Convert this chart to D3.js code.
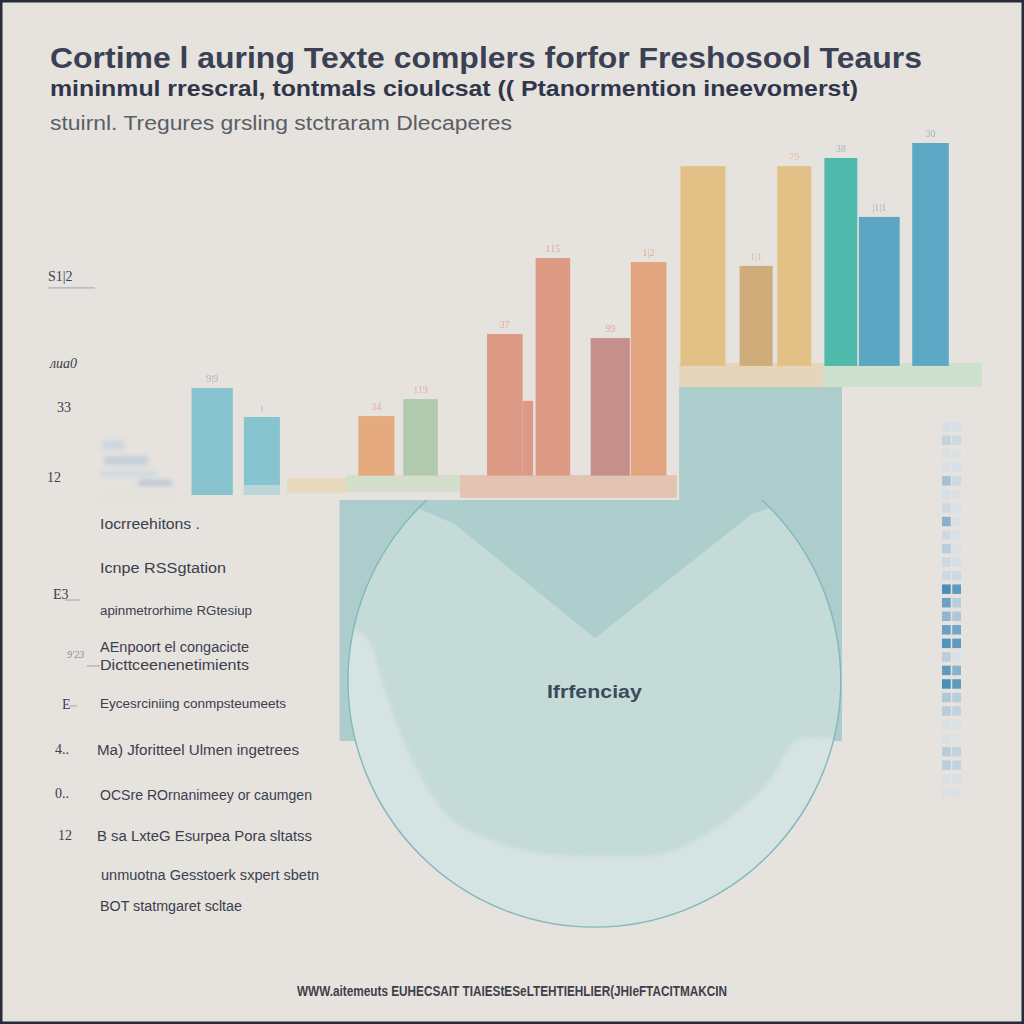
<!DOCTYPE html>
<html><head><meta charset="utf-8">
<script src="https://cdn.jsdelivr.net/npm/d3@7"></script>
<style>html,body{margin:0;padding:0;background:#e6e2de;overflow:hidden}</style>
</head><body>
<svg id="c" width="1024" height="1024" xmlns="http://www.w3.org/2000/svg"></svg>
<script>
// ---------------- DATA ----------------
const titleText = "Cortime l auring Texte complers forfor Freshosool Teaurs";
const subtitleText = "mininmul rrescral, tontmals cioulcsat (( Ptanormention ineevomerst)";
const noteText = "stuirnl. Tregures grsling stctraram  Dlecaperes";
const footerText = "WWW.aitemeuts EUHECSAIT TIAIEStESeLTEHTIEHLIER(JHIeFTACITMAKCIN";

const categories = ["a1","a2","b1","b2","c1","c1s","c2","c3","c4","d1","d2","d3","e1","e2","e3"];
const binStart = [1.44, 7.98, 22.29, 27.91, 38.38, 42.83, 44.45, 51.33, 56.35, 62.56, 69.95, 74.66, 80.55, 84.86, 91.53];
const binEnd   = [6.6, 12.49, 26.8, 32.23, 42.83, 44.13, 48.78, 56.23, 60.8, 68.19, 74.08, 78.91, 84.66, 89.96, 96.1];
const barBase  = [0, 0, 6.6, 6.6, 6.6, 6.6, 6.6, 6.6, 6.6, 44, 44, 44, 44, 44, 44];
const barValue = [36.5, 26.6, 26.9, 32.7, 54.9, 32.1, 80.8, 53.5, 79.4, 112.1, 78.1, 112.1, 114.9, 94.8, 120];
const barLabels = ["9|9", "ı", "34", "119", "37", "", "115", "99", "1|2", "", "1|1", "79", "38", "|1|1", "30"];

const platStart = [13.4, 20.75, 35.0, 62.4, 80.4];
const platEnd   = [20.75, 35.0, 62.1, 80.4, 100.25];
const platLow   = [0.7, 1.0, -1.0, 36.8, 36.8];
const platHigh  = [5.8, 6.8, 6.8, 45.0, 45.0];

const tealX = [19.94, 62.4, 62.4, 82.75, 82.75, 19.94];
const tealY = [-1.7, -1.7, 36.8, 36.8, -83.9, -83.9];

const pieValues = [100];
const pieLabels = ["Ifrfenciay"];
const pieCenter = [51.8, -63.3];
const pieRadius = 30.8;
const pieLabelValue = -67.5;

const tickValues = [74, 44.3, 29.3, 5.5, -34.4, -54.9, -71.9, -87.3, -102.3, -116.6];
const tickLabels = ["S1|2", "лиa0", "33", "12", "E3", "9'23", "E", "4..", "0..", "12"];

const listItems = ["Iocrreehitons .", "Icnpe RSSgtation", "apinmetrorhime RGtesiup", "AEnpoort el congacicte",
  "Dicttceenenetimients", "Eycesrciniing conmpsteumeets", "Ma) Jforitteel Ulmen ingetrees",
  "OCSre ROrnanimeey or caumgen", "B sa LxteG Esurpea Pora sltatss", "unmuotna Gesstoerk sxpert sbetn",
  "BOT statmgaret scltae"];

const heatLeft  = [0.15,0.25,0.1,0.1,0.4,0.15,0.2,0.55,0.2,0.3,0.2,0.2,0.85,0.7,0.5,0.7,0.8,0.3,0.75,0.85,0.35,0.3,0.1,0.1,0.3,0.3,0.1,0.1];
const heatRight = [0.15,0.2,0.1,0.15,0.2,0.1,0.1,0.1,0.1,0.1,0.15,0.2,0.75,0.3,0.35,0.65,0.75,0.1,0.55,0.75,0.3,0.25,0.1,0.05,0.25,0.25,0.15,0.1];

// ---------------- STYLE / LAYOUT ----------------
const barColors = ["#88c4d0","#88c4d0","#e5aa7e","#b1caae","#dc9985","#dc9985","#dd9b85","#c5908b","#e1a47f","#e3c186","#d1ac7b","#e3c186","#4fb9ac","#5aa6c3","#5da8c5"];
const labelColors = ["#9aa8b0","#9aa8b0","#e39482","#e3a08e","#e39482","#e39482","#e39482","#e39482","#e39482","#e0b890","#e0b080","#e0b890","#8ab0ac","#8aa8b8","#8aa8b8"];
const platColors = ["#e8d8bd","#d3dfca","#e3c4b2","#e5d5bb","#d0e0ce"];
const listY = [525, 569, 612, 648, 666, 705, 751, 796, 837, 876, 907];
const listX = [100, 100, 100, 100, 100, 100, 97, 100, 97, 101, 100];
const listW = [100, 126, 152, 149, 149, 186, 202, 212, 215, 218, 142];
const listFs = [14, 14, 12, 14, 14, 13, 14, 14, 14, 14, 14];

const FONT = "'Liberation Sans', Arial, sans-serif";
const svg = d3.select("#c");
const W = 1024, H = 1024;

const x = d3.scaleLinear().domain([0, 100]).range([180, 980]);
const y = d3.scaleLinear().domain([0, 120]).range([495, 143]);

svg.append("rect").attr("width", W).attr("height", H).attr("fill", "#e6e2de");

const defs = svg.append("defs");
defs.append("filter").attr("id", "blur").append("feGaussianBlur").attr("stdDeviation", 2);
defs.append("filter").attr("id", "blur1").append("feGaussianBlur").attr("stdDeviation", 0.7);

// teal background region
const tealPts = tealX.map((d, i) => [x(d), y(tealY[i])]);
svg.append("path").attr("d", d3.line()(tealPts) + "Z").attr("fill", "#adcdcc");

// pie / circle
const cx = x(pieCenter[0]), cy = y(pieCenter[1]);
const r = x(pieCenter[0] + pieRadius) - x(pieCenter[0]);
const clipTop = y(-1.7);
defs.append("clipPath").attr("id", "circClip").append("circle").attr("cx", cx).attr("cy", cy).attr("r", r);
defs.append("clipPath").attr("id", "topClip").append("rect").attr("x", 0).attr("y", clipTop).attr("width", W).attr("height", H);

const pieG = svg.append("g").attr("clip-path", "url(#topClip)");
const pieInner = pieG.append("g");
const arcs = d3.pie().sort(null)(pieValues);
pieInner.selectAll("path.slice").data(arcs).join("path").attr("class", "slice")
  .attr("transform", `translate(${cx},${cy})`)
  .attr("d", d3.arc().innerRadius(0).outerRadius(r))
  .attr("fill", "#c4dbd8");
const inner = pieInner.append("g").attr("clip-path", "url(#circClip)");
const rel = p => [cx + p[0] * r, cy + p[1] * r];
const vShape = [[-0.9,-1.1],[-0.789,-0.732],[-0.566,-0.635],[0.002,-0.172],[0.639,-0.676],[0.793,-0.732],[0.9,-1.1]].map(rel);
inner.append("path").attr("d", d3.line()(vShape) + "Z").attr("fill", "#aecece").attr("filter", "url(#blur1)");
const wave = [[-1.1,-0.205],[-1.012,-0.205],[-0.935,-0.189],[-0.85,0.039],[-0.797,0.189],[-0.708,0.383],[-0.594,0.55],[-0.424,0.647],[-0.249,0.696],[0.022,0.712],[0.298,0.696],[0.509,0.586],[0.708,0.408],[0.817,0.245],[0.984,0.233],[1.1,0.233],[1.1,1.1],[-1.1,1.1]].map(rel);
inner.append("path").attr("d", d3.line().curve(d3.curveCatmullRom)(wave) + "Z").attr("fill", "#d5e3e3").attr("filter", "url(#blur)");
pieG.append("circle").attr("cx", cx).attr("cy", cy).attr("r", r).attr("fill", "none").attr("stroke", "#82b8bc").attr("stroke-width", 1.4);
svg.selectAll("text.pielab").data(pieLabels).join("text").attr("class", "pielab")
  .attr("x", cx).attr("y", y(pieLabelValue)).attr("text-anchor", "middle").attr("dominant-baseline", "middle")
  .attr("font-family", FONT).attr("font-weight", "bold").attr("font-size", 18).attr("fill", "#3c4a5c")
  .attr("textLength", 95).attr("lengthAdjust", "spacingAndGlyphs").text(d => d);

// platforms
svg.selectAll("rect.plat").data(platStart).join("rect").attr("class", "plat")
  .attr("x", (d) => x(d)).attr("width", (d, i) => x(platEnd[i]) - x(d))
  .attr("y", (d, i) => y(platHigh[i])).attr("height", (d, i) => y(platLow[i]) - y(platHigh[i]))
  .attr("fill", (d, i) => platColors[i]);

// bars
svg.selectAll("rect.bar").data(categories).join("rect").attr("class", "bar")
  .attr("x", (d, i) => x(binStart[i])).attr("width", (d, i) => x(binEnd[i]) - x(binStart[i]))
  .attr("y", (d, i) => y(barValue[i])).attr("height", (d, i) => y(barBase[i]) - y(barValue[i]))
  .attr("fill", (d, i) => barColors[i]);
svg.selectAll("rect.fade").data([1]).join("rect").attr("class", "fade")
  .attr("x", x(binStart[1])).attr("width", x(binEnd[1]) - x(binStart[1]))
  .attr("y", y(3.4)).attr("height", y(0) - y(3.4)).attr("fill", "#bcd6d8");

svg.selectAll("text.val").data(categories).join("text").attr("class", "val")
  .attr("x", (d, i) => (x(binStart[i]) + x(binEnd[i])) / 2)
  .attr("y", (d, i) => y(barValue[i]) - 6)
  .attr("text-anchor", "middle").attr("font-family", "'Liberation Serif', serif").attr("font-size", 10)
  .attr("opacity", 0.75)
  .attr("fill", (d, i) => labelColors[i]).text((d, i) => barLabels[i]);

// faint smudge on left
const smudge = svg.append("g").attr("filter", "url(#blur)").attr("opacity", 0.55);
[[102,440,22,10,"#b9cfe0"],[104,456,44,9,"#a9c3d8"],[100,470,58,8,"#c3d5e2"],[138,480,34,6,"#9db5c8"],[100,494,72,6,"#dde2d3"]]
  .forEach(s => smudge.append("rect").attr("x", s[0]).attr("y", s[1]).attr("width", s[2]).attr("height", s[3]).attr("fill", s[4]));

// heatmap strip
const rowsB = d3.scaleBand().domain(d3.range(heatLeft.length)).range([422, 797]).paddingInner(0.3);
const colsB = d3.scaleBand().domain([0, 1]).range([942, 961]).paddingInner(0.15);
const hc = d3.scaleLinear().domain([0, 0.15, 1]).range(["#e4e3e2", "#d6dfe6", "#2f7db0"]).interpolate(d3.interpolateRgb);
const heatG = svg.append("g").attr("filter", "url(#blur1)");
[heatLeft, heatRight].forEach((arr, c) => {
  heatG.selectAll("rect.h" + c).data(arr).join("rect").attr("class", "h" + c)
    .attr("x", colsB(c)).attr("width", colsB.bandwidth())
    .attr("y", (d, i) => rowsB(i)).attr("height", rowsB.bandwidth())
    .attr("fill", d => hc(d));
});

// left tick labels
const tickG = svg.append("g");
tickG.selectAll("text").data(tickValues).join("text")
  .attr("x", (d, i) => [48, 50, 57, 47, 53, 67, 62, 55, 55, 58][i])
  .attr("y", d => y(d)).attr("dominant-baseline", "middle")
  .attr("font-family", "'Liberation Serif', serif")
  .attr("font-size", (d, i) => i === 5 ? 10 : 14)
  .attr("font-style", (d, i) => (i === 1 || i === 5) ? "italic" : "normal")
  .attr("fill", (d, i) => i === 5 ? "#8a8f99" : "#3c3f48")
  .text((d, i) => tickLabels[i]);
const tickLines = [[48, 95, 74 - 3.4], [65, 80, -34.4 - 1.4], [87, 100, -54.9 - 3.4], [70, 77, -71.9]];
tickG.selectAll("line").data(tickLines).join("line")
  .attr("x1", d => d[0]).attr("x2", d => d[1]).attr("y1", d => y(d[2])).attr("y2", d => y(d[2]))
  .attr("stroke", "#a0a4aa").attr("stroke-width", 1);

// list items
svg.selectAll("text.item").data(listItems).join("text").attr("class", "item")
  .attr("x", (d, i) => listX[i]).attr("y", (d, i) => listY[i]).attr("dominant-baseline", "middle")
  .attr("font-family", FONT).attr("font-size", (d, i) => listFs[i]).attr("fill", "#3a404c")
  .attr("textLength", (d, i) => listW[i]).attr("lengthAdjust", "spacingAndGlyphs").text(d => d);

// titles
svg.append("text").attr("x", 50).attr("y", 68).attr("font-family", FONT).attr("font-weight", "bold")
  .attr("font-size", 30).attr("fill", "#394153").attr("textLength", 872).attr("lengthAdjust", "spacingAndGlyphs").text(titleText);
svg.append("text").attr("x", 50).attr("y", 96).attr("font-family", FONT).attr("font-weight", "bold")
  .attr("font-size", 22).attr("fill", "#30364a").attr("textLength", 808).attr("lengthAdjust", "spacingAndGlyphs").text(subtitleText);
svg.append("text").attr("x", 50).attr("y", 130).attr("font-family", FONT)
  .attr("font-size", 20).attr("fill", "#5a5e66").attr("textLength", 462).attr("lengthAdjust", "spacingAndGlyphs").text(noteText);
svg.append("text").attr("x", 297).attr("y", 996).attr("font-family", "'Liberation Sans Narrow', " + FONT).attr("font-weight", "bold")
  .attr("font-size", 14).attr("fill", "#3e4048").attr("textLength", 430).attr("lengthAdjust", "spacingAndGlyphs").text(footerText);

// frame
svg.append("rect").attr("x", 1).attr("y", 1).attr("width", W - 2).attr("height", H - 2)
  .attr("fill", "none").attr("stroke", "#262c3a").attr("stroke-width", 3);
</script>
</body></html>
